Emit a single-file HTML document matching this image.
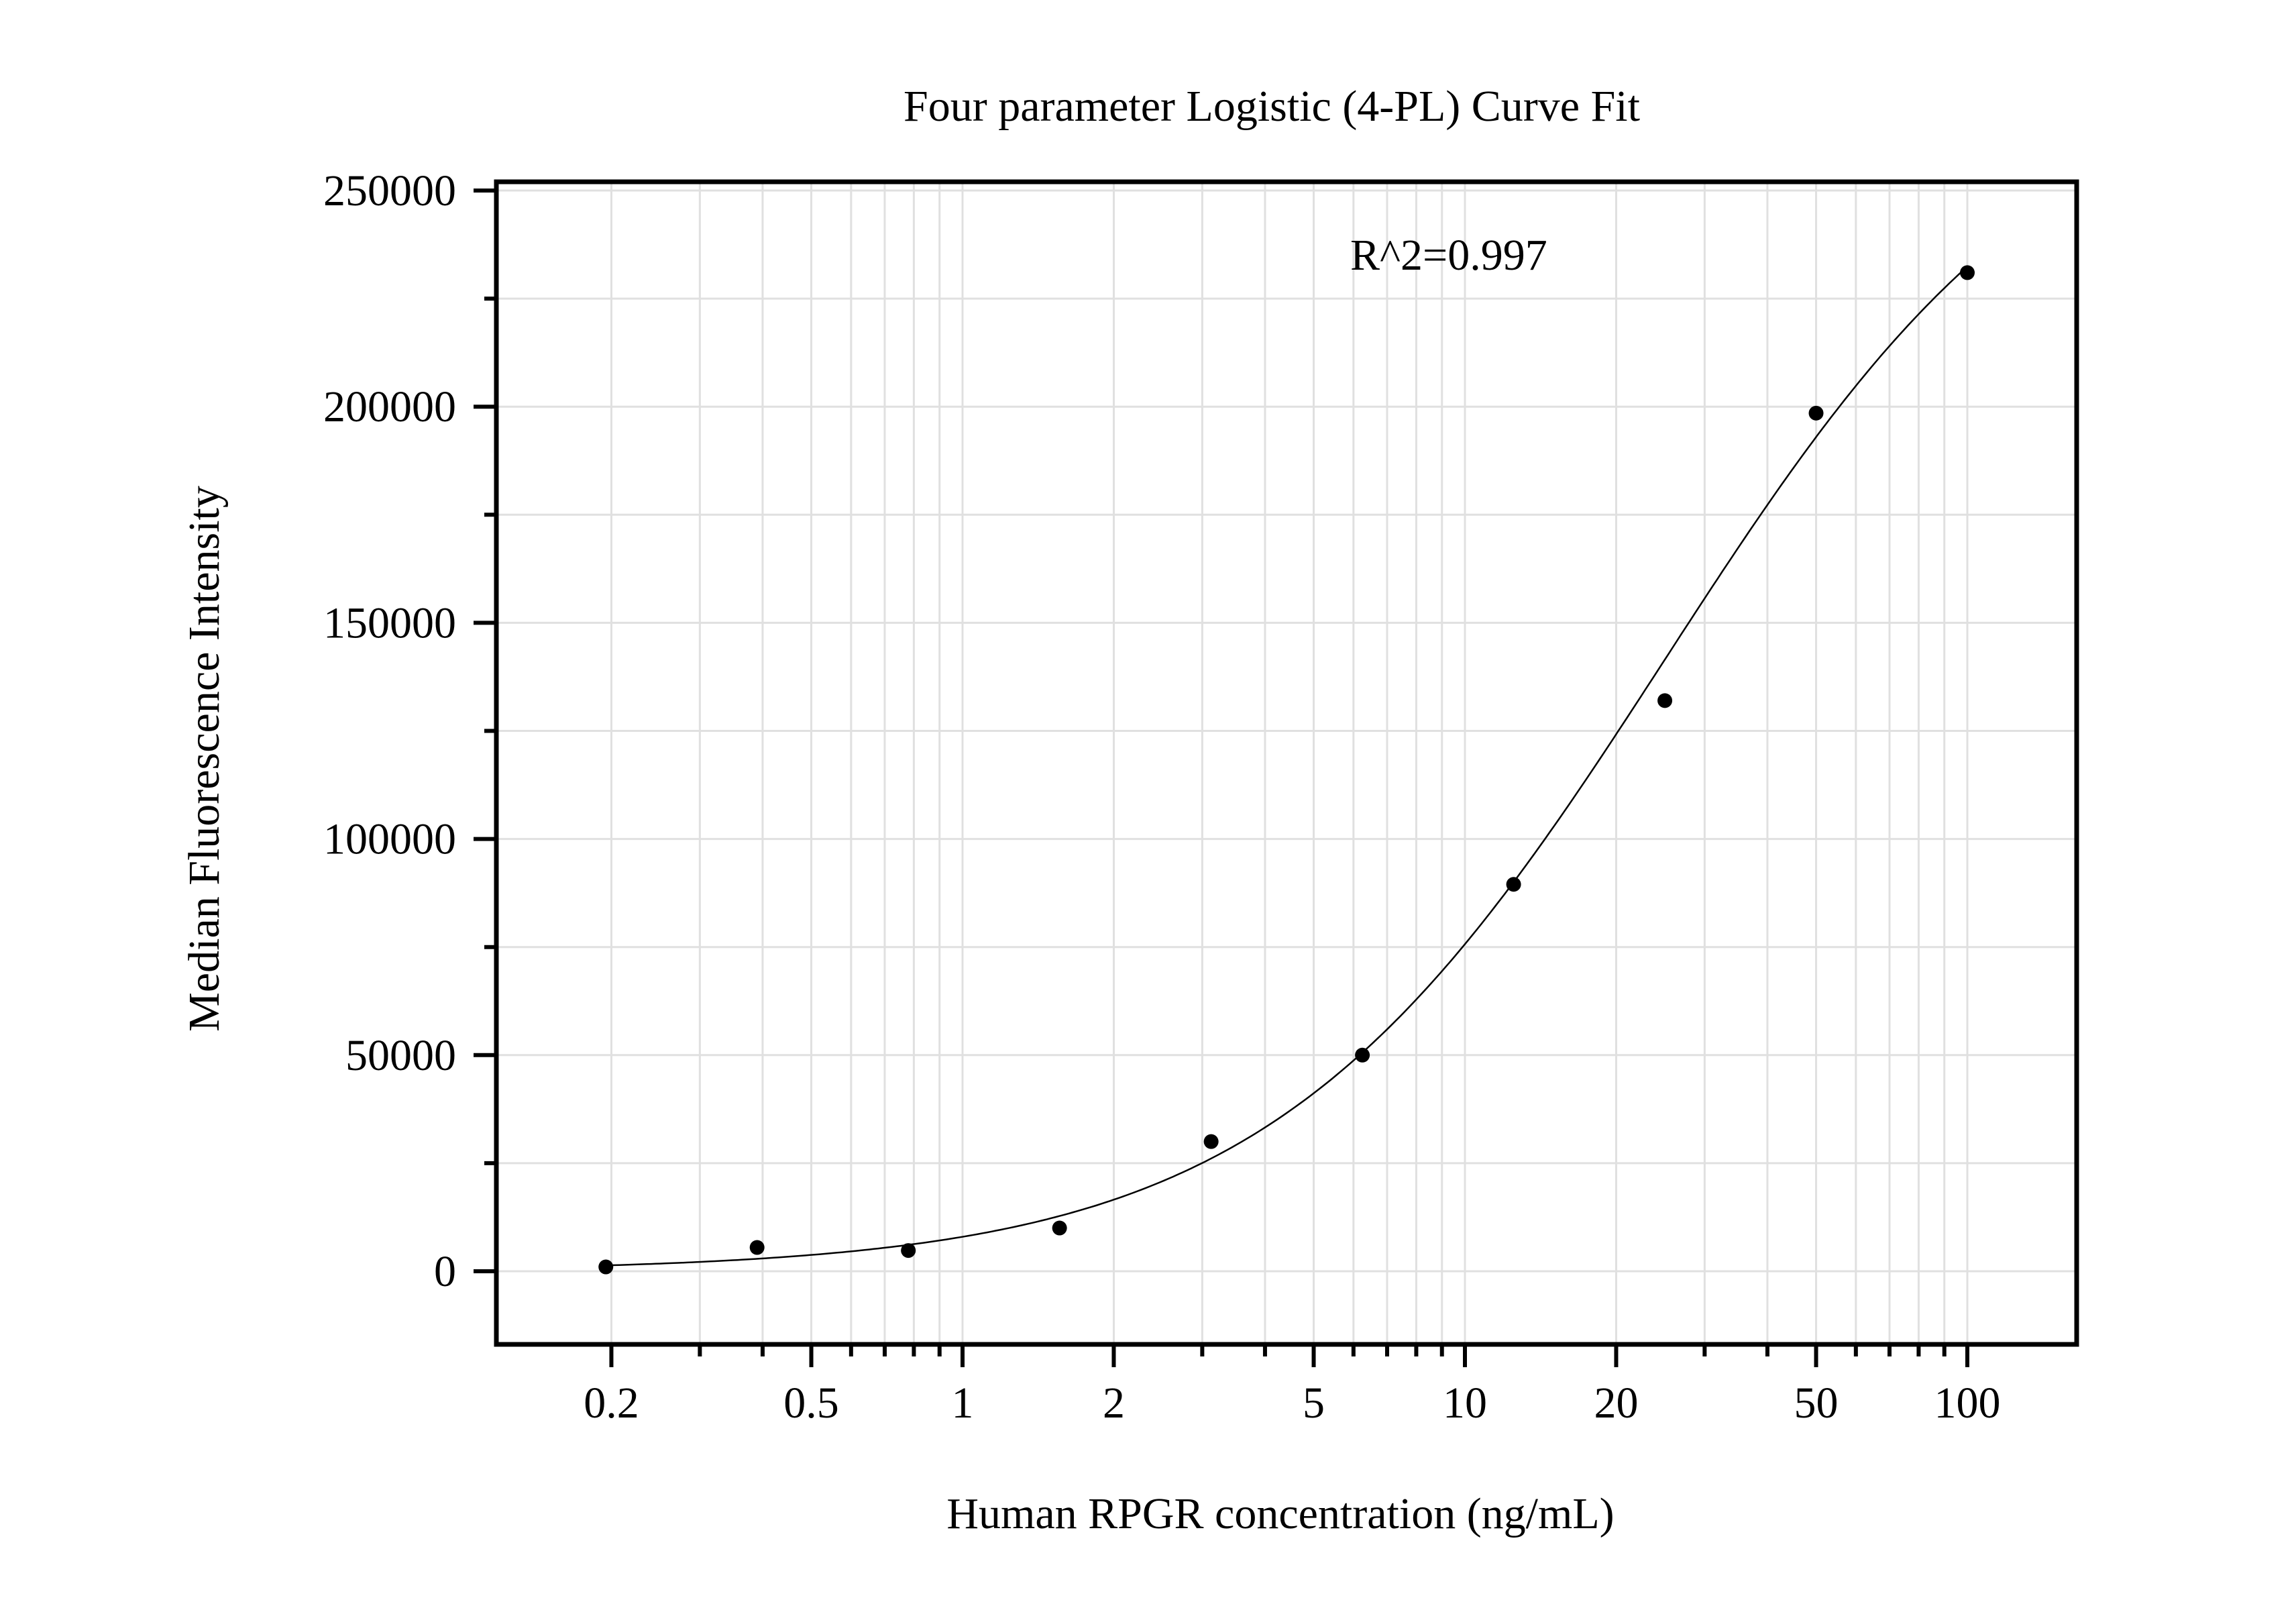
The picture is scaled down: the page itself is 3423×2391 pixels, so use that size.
<!DOCTYPE html>
<html><head><meta charset="utf-8"><style>html,body{margin:0;padding:0;background:#fff}svg{display:block}text{font-family:"Liberation Serif",serif;fill:#000}</style></head>
<body>
<svg id="chart" width="3423" height="2391" viewBox="0 0 3423 2391">
<g id="grid"></g>
<g id="axes"></g>
<path id="curve" fill="none" stroke="#000" stroke-width="2.5"/>
<g id="points"></g>
<rect x="740" y="271" width="2356" height="1733" fill="none" stroke="#000" stroke-width="7"/>
<text x="1896" y="180" font-size="66" text-anchor="middle">Four parameter Logistic (4-PL) Curve Fit</text>
<text x="2013" y="402" font-size="66">R^2=0.997</text>
<text x="1909" y="2278" font-size="66" text-anchor="middle">Human RPGR concentration (ng/mL)</text>
<text transform="translate(326,1131) rotate(-90)" font-size="66" text-anchor="middle">Median Fluorescence Intensity</text>
</svg>
<script>
const xs=[0.195,0.39,0.78,1.56,3.125,6.25,12.5,25,50,100];
const ys=[1000,5500,4800,10000,30000,50000,89500,132000,198500,231000];
const fitParams=[0,283000,25,1.1]; // A bottom, D top, C, B
const xTickVals=[0.2,0.5,1,2,5,10,20,50,100];
const xTickLabels=["0.2","0.5","1","2","5","10","20","50","100"];
const yTickVals=[0,50000,100000,150000,200000,250000];
const yTickLabels=["0","50000","100000","150000","200000","250000"];
const L=740,R=3096,T=271,B=2004;
function X(v){return 2933+(Math.log10(v)-2)*749;}
function Y(v){return 1895-v*(1611/250000);}
const NS="http://www.w3.org/2000/svg";
function mk(tag,attrs,parent){const e=document.createElementNS(NS,tag);for(const k in attrs)e.setAttribute(k,attrs[k]);parent.appendChild(e);return e;}
const grid=document.getElementById('grid'),axes=document.getElementById('axes');
for(let d=-1;d<=2;d++){for(let m=1;m<10;m++){const v=m*Math.pow(10,d);const x=X(v);if(x<L+4||x>R-4)continue;
 const g=mk('line',{x1:x,x2:x,y1:T,y2:B,stroke:'#e0e0e0','stroke-width':3},grid);
 
 
 const major=(m===1||m===2||m===5);
 const t=mk('line',{x1:x,x2:x,y1:B,y2:B+(major?34:18),stroke:'#000','stroke-width':6},axes);
 
 }}
for(let v=0;v<=250000;v+=25000){const y=Y(v);
 if(y>T+4&&y<B-4){const g=mk('line',{x1:L,x2:R,y1:y,y2:y,stroke:'#e0e0e0','stroke-width':3},grid);
 
 }
 const major=(v%50000===0);
 const t=mk('line',{x1:L-(major?34:18),x2:L,y1:y,y2:y,stroke:'#000','stroke-width':6},axes);
 
 }
xTickVals.forEach((v,i)=>{const t=mk('text',{x:X(v),y:2113,'font-size':66,'text-anchor':'middle'},axes);t.textContent=xTickLabels[i];
 
 });
yTickVals.forEach((v,i)=>{const t=mk('text',{x:680,y:Y(v)+22,'font-size':66,'text-anchor':'end'},axes);t.textContent=yTickLabels[i];
 
 });
const [A,D,C,Bs]=fitParams;let d='';
for(let i=0;i<=300;i++){const lx=Math.log10(xs[0])+(Math.log10(xs[xs.length-1])-Math.log10(xs[0]))*i/300;const x=Math.pow(10,lx);
 const y=D+(A-D)/(1+Math.pow(x/C,Bs));d+=(i?'L':'M')+X(x).toFixed(1)+' '+Y(y).toFixed(1);}
document.getElementById('curve').setAttribute('d',d);
const pts=document.getElementById('points');
xs.forEach((x,i)=>{const c=mk('circle',{cx:X(x),cy:Y(ys[i]),r:11,fill:'#000'},pts);
 
 });
</script>
</body></html>
